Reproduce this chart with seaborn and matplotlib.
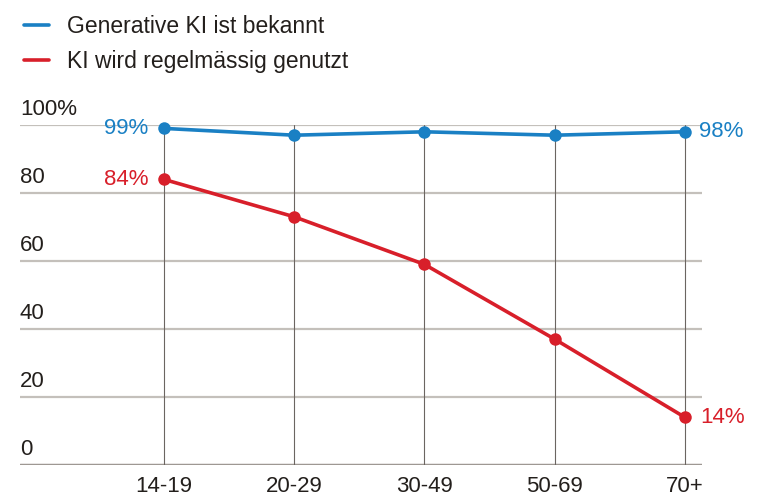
import matplotlib
matplotlib.use("Agg")
import matplotlib.pyplot as plt
import seaborn as sns
import pandas as pd
from matplotlib.lines import Line2D

age_groups = ["14-19", "20-29", "30-49", "50-69", "70+"]
known = [99, 97, 98, 97, 98]
used = [84, 73, 59, 37, 14]
series_names = ["Generative KI ist bekannt", "KI wird regelmässig genutzt"]
y_ticks = [0, 20, 40, 60, 80, 100]
y_tick_labels = ["0", "20", "40", "60", "80", "100%"]

BLUE = "#1a80c4"
RED = "#d81f2a"
GRID = "#c4c0bb"
TEXT = "#231f1c"

df = pd.DataFrame({
    "age": age_groups * 2,
    "value": known + used,
    "series": [series_names[0]] * len(age_groups) + [series_names[1]] * len(age_groups),
})

sns.set_style("white")
plt.rcParams["font.family"] = ["Liberation Sans", "DejaVu Sans"]

fig = plt.figure(figsize=(7.68, 4.98), dpi=100)
ax = fig.add_axes([20 / 768, 1 - 465 / 498, 682 / 768, 340 / 498])

# grid lines
for t in y_ticks:
    if t == 0:
        ax.axhline(t, color="#9e9893", lw=2.5, zorder=1)
    else:
        ax.axhline(t, color=GRID, lw=1.6, zorder=1)
for i in range(len(age_groups)):
    ax.plot([i, i], [0, 100], color="#6b6561", lw=0.8, zorder=1)

sns.lineplot(data=df, x="age", y="value", hue="series", palette=[BLUE, RED],
             marker="o", markersize=9, markeredgewidth=0, linewidth=2.6,
             legend=False, ax=ax, zorder=3, clip_on=False)

step = 130.3
ax.set_xlim(-(164 - 20) / step, 4 + 17 / step)
ax.set_ylim(0, 100)
for s in ax.spines.values():
    s.set_visible(False)
ax.set_yticks([])
ax.set_xticks(range(len(age_groups)))
ax.set_xticklabels(age_groups, fontsize=16, color=TEXT)
ax.tick_params(axis="x", length=0, pad=8)
ax.set_xlabel("")
ax.set_ylabel("")

# y labels above grid lines
for t, lab in zip(y_ticks, y_tick_labels):
    ax.text(0, t + 1.6, lab, transform=ax.get_yaxis_transform(), ha="left", va="bottom",
            fontsize=16, color=TEXT)

# value labels
ax.text(-0.12, known[0], f"{known[0]}%", ha="right", va="center", fontsize=16, color=BLUE)
ax.text(-0.12, used[0], f"{used[0]}%", ha="right", va="center", fontsize=16, color=RED)
ax.text(4.11, known[-1], f"{known[-1]}%", ha="left", va="center", fontsize=16, color=BLUE)
ax.text(4.12, used[-1], f"{used[-1]}%", ha="left", va="center", fontsize=16, color=RED)

handles = [Line2D([], [], color=BLUE, lw=2.6), Line2D([], [], color=RED, lw=2.6)]
fig.legend(handles, series_names, loc="upper left", bbox_to_anchor=(0.004, 1.012),
           frameon=False, fontsize=16.5, handlelength=1.1, handletextpad=0.8,
           labelspacing=0.55, labelcolor=TEXT)

fig.savefig("out.png", dpi=100)
